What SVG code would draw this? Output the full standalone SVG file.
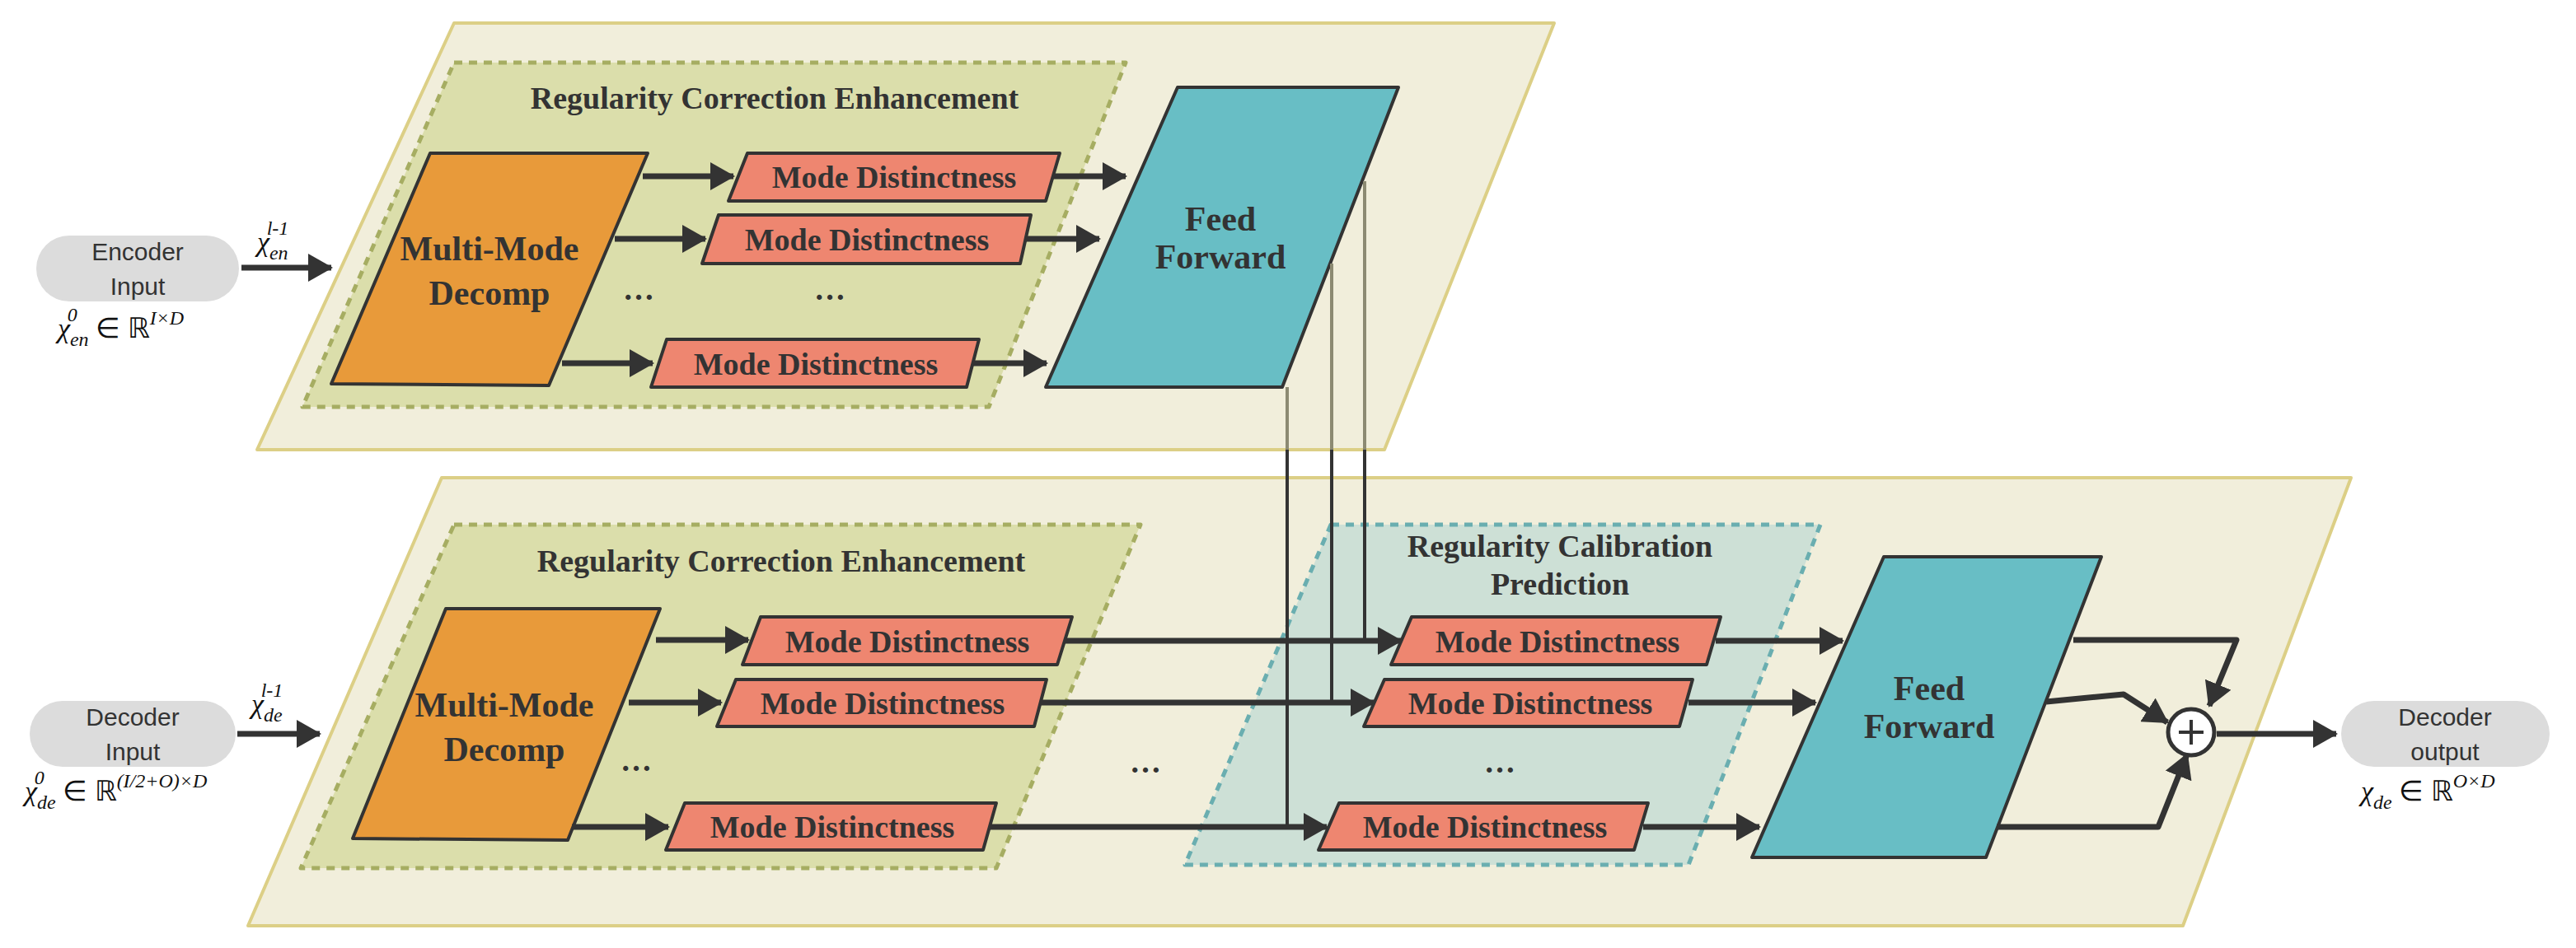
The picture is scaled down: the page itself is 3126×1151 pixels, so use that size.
<svg xmlns="http://www.w3.org/2000/svg" width="3126" height="1151" viewBox="0 0 3126 1151">
<defs>
<style>
.panel{fill:#f1eedb;stroke:#dccf86;stroke-width:4;stroke-linejoin:round}
.rce{fill:#dbdeab;stroke:#a6ad62;stroke-width:5;stroke-dasharray:10 8;stroke-linejoin:round}
.rcp{fill:#cde0d6;stroke:#6aaeb0;stroke-width:5;stroke-dasharray:10 8;stroke-linejoin:round}
.dec{fill:#e89a3a;stroke:#333;stroke-width:4;stroke-linejoin:round}
.md{fill:#ee8670;stroke:#333;stroke-width:4;stroke-linejoin:round}
.ff{fill:#68bec5;stroke:#333;stroke-width:4;stroke-linejoin:round}
.pill{fill:#dcdcdc}
.t{font-family:"Liberation Serif",serif;font-weight:bold;fill:#333;text-anchor:middle}
.s{font-family:"Liberation Sans",sans-serif;fill:#333;text-anchor:middle;font-size:30px}
.m{font-family:"Liberation Serif",serif;font-style:italic;fill:#111;font-size:34px}
.a{fill:none;stroke:#333;stroke-width:7;marker-end:url(#ah)}
.l{fill:none;stroke:#333;stroke-width:7}
.v{fill:none;stroke:#333;stroke-width:4}
.vg{fill:none;stroke:#8c8a72;stroke-width:4}
</style>
<marker id="ah" markerUnits="userSpaceOnUse" markerWidth="30" markerHeight="34" refX="28" refY="17" orient="auto"><path d="M0,0 L30,17 L0,34 Z" fill="#333"/></marker>
</defs>

<g id="encoder-panel">
<path class="panel" d="M551,28 L1886,28 L1680,546 L312,546 Z"/>
<path class="rce" d="M551,76 L1366,76 L1200,494 L367,494 Z"/>
<text class="t" x="940" y="132" font-size="38">Regularity Correction Enhancement</text>
</g>
<g id="enc-decomp"><path class="dec" d="M522,186 L786,186 L666,468 L402,466 Z"/>
<text class="t" x="594" y="316" font-size="42">Multi-Mode</text><text class="t" x="594" y="370" font-size="42">Decomp</text></g>
<g id="enc-md1"><path class="md" d="M907,186 L1286,186 L1269,244 L884,244 Z"/><text class="t" x="1085" y="228" font-size="38">Mode Distinctness</text></g>
<g id="enc-md2"><path class="md" d="M872,261 L1251,261 L1238,320 L852,320 Z"/><text class="t" x="1052" y="304" font-size="38">Mode Distinctness</text></g>
<g id="enc-md3"><path class="md" d="M809,412 L1188,412 L1173,470 L790,470 Z"/><text class="t" x="990" y="455" font-size="38">Mode Distinctness</text></g>
<g id="enc-ff"><path class="ff" d="M1429,106 L1697,106 L1556,470 L1269,470 Z"/>
<text class="t" x="1481" y="280" font-size="42">Feed</text><text class="t" x="1481" y="326" font-size="42">Forward</text></g>
<text class="t" x="775" y="364" font-size="38">…</text>
<text class="t" x="1007" y="364" font-size="38">…</text>

<g id="encoder-input"><rect class="pill" x="44" y="286" width="246" height="80" rx="40"/>
<text class="s" x="167" y="316">Encoder</text><text class="s" x="167" y="358">Input</text></g>
<text class="m" x="70" y="410">χ<tspan font-size="24" dy="10">en</tspan><tspan font-size="24" dx="-26" dy="-30">0</tspan><tspan dx="14" dy="20" font-style="normal"> ∈ ℝ</tspan><tspan font-size="24" dy="-16">I×D</tspan></text>
<text class="m" x="312" y="305">χ<tspan font-size="24" dy="10">en</tspan><tspan font-size="24" dx="-26" dy="-30">l-1</tspan></text>

<g id="decoder-panel">
<path class="panel" d="M536,580 L2853,580 L2649,1124 L301,1124 Z"/>
<path class="rce" d="M551,637 L1384,637 L1209,1054 L365,1054 Z"/>
<text class="t" x="948" y="694" font-size="38">Regularity Correction Enhancement</text>
<path class="rcp" d="M1615,637 L2209,637 L2049,1050 L1438,1050 Z"/>
<text class="t" x="1893" y="676" font-size="38">Regularity Calibration</text>
<text class="t" x="1893" y="722" font-size="38">Prediction</text>
</g>
<g id="dec-decomp"><path class="dec" d="M541,739 L801,739 L689,1020 L428,1018 Z"/>
<text class="t" x="612" y="870" font-size="42">Multi-Mode</text><text class="t" x="612" y="924" font-size="42">Decomp</text></g>
<g id="dec-md1"><path class="md" d="M923,749 L1301,749 L1283,807 L901,807 Z"/><text class="t" x="1101" y="792" font-size="38">Mode Distinctness</text></g>
<g id="dec-md2"><path class="md" d="M893,825 L1270,825 L1255,882 L870,882 Z"/><text class="t" x="1071" y="867" font-size="38">Mode Distinctness</text></g>
<g id="dec-md3"><path class="md" d="M831,975 L1209,975 L1193,1032 L808,1032 Z"/><text class="t" x="1010" y="1017" font-size="38">Mode Distinctness</text></g>
<g id="rcp-md1"><path class="md" d="M1713,749 L2088,749 L2071,807 L1688,807 Z"/><text class="t" x="1890" y="792" font-size="38">Mode Distinctness</text></g>
<g id="rcp-md2"><path class="md" d="M1680,825 L2054,825 L2038,882 L1655,882 Z"/><text class="t" x="1857" y="867" font-size="38">Mode Distinctness</text></g>
<g id="rcp-md3"><path class="md" d="M1625,975 L2000,975 L1983,1032 L1600,1032 Z"/><text class="t" x="1802" y="1017" font-size="38">Mode Distinctness</text></g>
<g id="dec-ff"><path class="ff" d="M2286,676 L2550,676 L2410,1041 L2126,1041 Z"/>
<text class="t" x="2341" y="850" font-size="42">Feed</text><text class="t" x="2341" y="896" font-size="42">Forward</text></g>
<text class="t" x="772" y="936" font-size="38">…</text>
<text class="t" x="1390" y="938" font-size="38">…</text>
<text class="t" x="1820" y="938" font-size="38">…</text>

<g id="decoder-input"><rect class="pill" x="36" y="851" width="250" height="80" rx="40"/>
<text class="s" x="161" y="881">Decoder</text><text class="s" x="161" y="923">Input</text></g>
<text class="m" x="30" y="972">χ<tspan font-size="24" dy="10">de</tspan><tspan font-size="24" dx="-26" dy="-30">0</tspan><tspan dx="14" dy="20" font-style="normal"> ∈ ℝ</tspan><tspan font-size="24" dy="-16">(I/2+O)×D</tspan></text>
<text class="m" x="305" y="866">χ<tspan font-size="24" dy="10">de</tspan><tspan font-size="24" dx="-26" dy="-30">l-1</tspan></text>

<g id="adder"><circle cx="2659" cy="889" r="28" fill="#fff" stroke="#333" stroke-width="5"/>
<path d="M2659,874 V904 M2644,889 H2674" stroke="#333" stroke-width="4"/></g>
<g id="decoder-output"><rect class="pill" x="2841" y="851" width="253" height="80" rx="40"/>
<text class="s" x="2967" y="881">Decoder</text><text class="s" x="2967" y="923">output</text></g>
<text class="m" x="2865" y="972">χ<tspan font-size="24" dy="10">de</tspan><tspan dy="-10" font-style="normal"> ∈ ℝ</tspan><tspan font-size="24" dy="-16">O×D</tspan></text>

<g id="connectors">
<path class="a" d="M293,325 H402"/>
<path class="a" d="M780,214 H890"/>
<path class="a" d="M746,290 H856"/>
<path class="a" d="M682,441 H792"/>
<path class="a" d="M1278,214 H1366"/>
<path class="a" d="M1245,290 H1334"/>
<path class="a" d="M1180,441 H1270"/>
<path class="vg" d="M1656,220 V546"/>
<path class="vg" d="M1616,320 V546"/>
<path class="vg" d="M1562,470 V546"/>
<path class="v" d="M1656,546 V778"/>
<path class="v" d="M1616,546 V853"/>
<path class="v" d="M1562,546 V1004"/>
<path class="a" d="M288,891 H388"/>
<path class="a" d="M796,777 H908"/>
<path class="a" d="M763,853 H875"/>
<path class="a" d="M694,1004 H811"/>
<path class="a" d="M1292,778 H1700"/>
<path class="a" d="M1263,853 H1667"/>
<path class="a" d="M1201,1004 H1610"/>
<path class="v" d="M1656,778 H1690"/>
<path class="a" d="M2082,778 H2236"/>
<path class="a" d="M2049,853 H2203"/>
<path class="a" d="M1994,1004 H2135"/>
<path class="a" d="M2516,777 H2714 L2681,857" stroke-linejoin="round"/>
<path class="a" d="M2483,852 L2577,843 L2630,877" stroke-linejoin="round"/>
<path class="a" d="M2423,1004 H2619 L2654,916" stroke-linejoin="round"/>
<path class="a" d="M2690,891 H2835"/>
</g>
</svg>
